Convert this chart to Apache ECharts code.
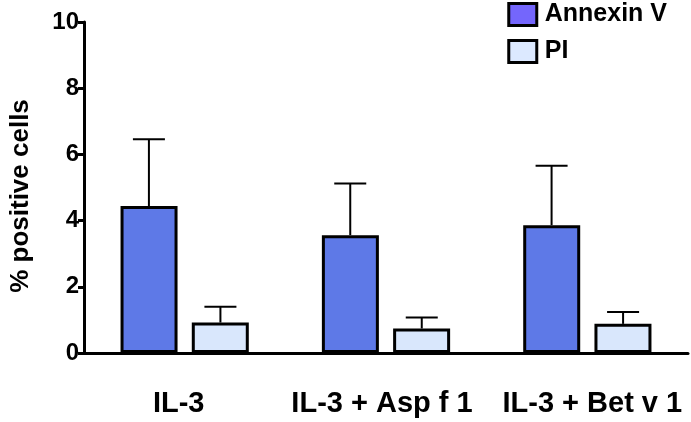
<!DOCTYPE html>
<html><head><meta charset="utf-8">
<script src="https://cdn.jsdelivr.net/npm/echarts@6/dist/echarts.min.js"></script>
<style>html,body{margin:0;padding:0;background:#fff}#c{width:691px;height:422px}</style>
</head><body><div id="c"></div>
<script>
const categories = ['IL-3', 'IL-3 + Asp f 1', 'IL-3 + Bet v 1'];
const annexinMean = [4.44, 3.56, 3.86];
const annexinErr = [6.46, 5.12, 5.66];
const piMean = [0.92, 0.74, 0.88];
const piErr = [1.40, 1.07, 1.24];
const yTicks = [0, 2, 4, 6, 8, 10];

const FONT = '"Liberation Sans", Arial, sans-serif';
const chart = echarts.init(document.getElementById('c'));

// small horizontal label nudges (px) to mirror the reference placement
const labelPads = [[0, 12, 0, 0], [0, 8, 0, 0], [0, 0, 0, 10]];

function errSeries(name, means, tops, offset) {
  return {
    type: 'custom', name: name + ' err', z: 1,
    data: means.map((m, i) => [i, m, tops[i]]),
    renderItem: function (params, api) {
      const i = api.value(0);
      const base = api.coord([i, api.value(1)]);
      const top = api.coord([i, api.value(2)]);
      const x = base[0] + offset;
      const half = 16;
      return { type: 'group', children: [
        { type: 'line', shape: { x1: x, y1: base[1], x2: x, y2: top[1] }, style: { stroke: '#000', lineWidth: 2 } },
        { type: 'line', shape: { x1: x - half, y1: top[1], x2: x + half, y2: top[1] }, style: { stroke: '#000', lineWidth: 2 } }
      ]};
    },
    silent: true
  };
}

chart.setOption({
  animation: false,
  grid: { left: 84, right: 3, top: 22, bottom: 69, containLabel: false },
  legend: {
    orient: 'vertical', right: 24, top: 2, padding: 0, itemWidth: 28, itemHeight: 22, itemGap: 12,
    icon: 'rect',
    textStyle: { fontFamily: FONT, fontWeight: 'bold', fontSize: 25, color: '#000', padding: [0, 0, 0, 3] },
    data: [
      { name: 'Annexin V', itemStyle: { color: '#7466FC', borderColor: '#000', borderWidth: 3 } },
      { name: 'PI', itemStyle: { color: '#DCE9FF', borderColor: '#000', borderWidth: 3 } }
    ]
  },
  xAxis: {
    type: 'category',
    data: categories.map((c, i) => ({ value: c, textStyle: { padding: labelPads[i] } })),
    axisLine: { lineStyle: { color: '#000', width: 3 } },
    axisTick: { show: false },
    axisLabel: { fontFamily: FONT, fontWeight: 'bold', fontSize: 29, color: '#000', margin: 36,
      interval: 0, hideOverlap: false }
  },
  yAxis: {
    type: 'value', min: 0, max: 10, interval: 2,
    name: '% positive cells', nameLocation: 'middle', nameRotate: 90, nameGap: 50,
    nameTextStyle: { fontFamily: FONT, fontWeight: 'bold', fontSize: 26, color: '#000', padding: [0, 17, 0, 0] },
    axisLine: { show: true, lineStyle: { color: '#000', width: 3 } },
    axisTick: { show: true, length: 6, lineStyle: { color: '#000', width: 3 } },
    splitLine: { show: false },
    axisLabel: { fontFamily: FONT, fontWeight: 'bold', fontSize: 24, color: '#000', margin: 5,
      formatter: v => yTicks.includes(v) ? String(v) : '' }
  },
  series: [
    { name: 'Annexin V', type: 'bar', data: annexinMean, barWidth: 57, barGap: '25%', z: 2,
      itemStyle: { color: '#5E79E7', borderColor: '#000', borderWidth: 3 } },
    { name: 'PI', type: 'bar', data: piMean, barWidth: 57, barGap: '25%', z: 2,
      itemStyle: { color: '#D9E7FC', borderColor: '#000', borderWidth: 3 } },
    errSeries('Annexin V', annexinMean, annexinErr, -35.75),
    errSeries('PI', piMean, piErr, 35.75)
  ]
});
</script></body></html>
